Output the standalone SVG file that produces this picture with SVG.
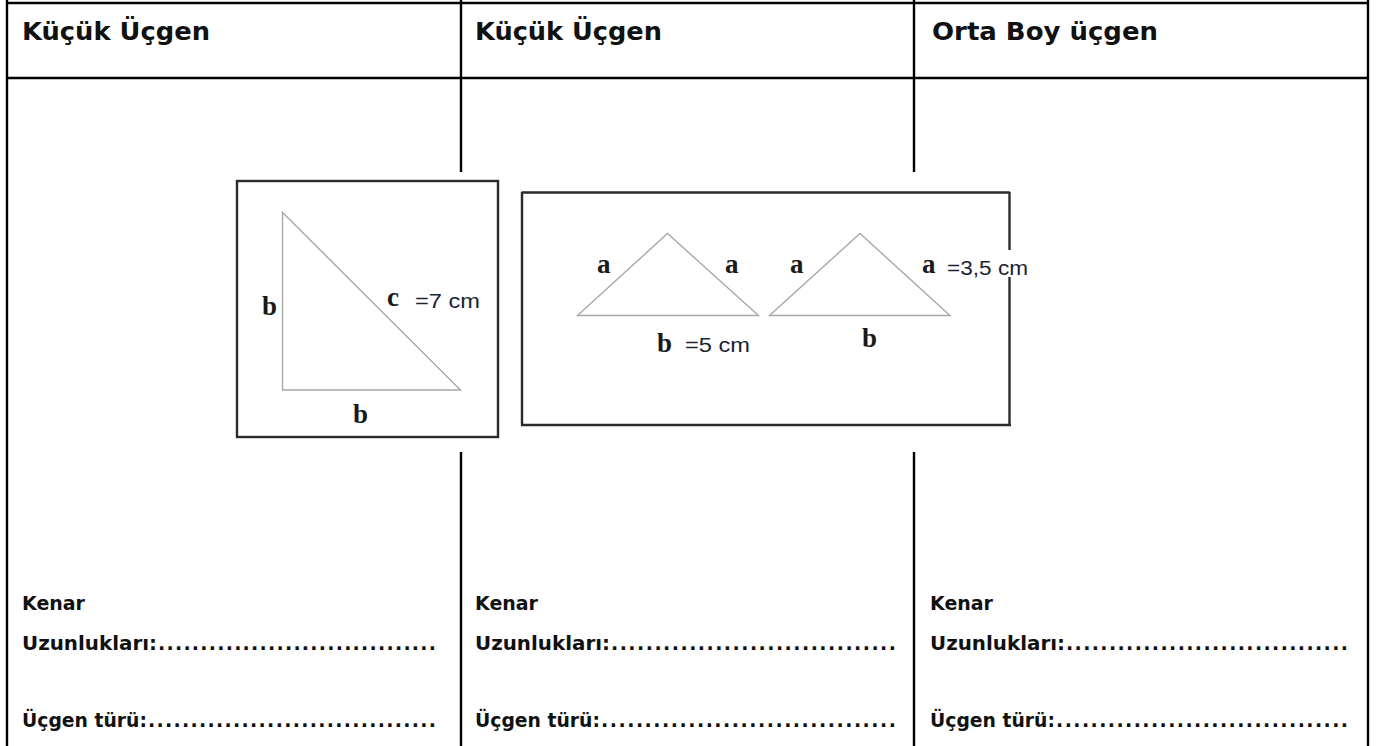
<svg xmlns="http://www.w3.org/2000/svg" width="1381" height="746" viewBox="0 0 1381 746">
<style>
.tl{stroke:#000;stroke-width:2.4;fill:none}
.hd{font-family:"DejaVu Sans",sans-serif;font-weight:bold;font-size:25px;fill:#111}
.bt{font-family:"DejaVu Sans",sans-serif;font-weight:bold;font-size:19px;fill:#111}
.box{fill:none;stroke:#2b2b2b;stroke-width:2.4}
.tri{fill:none;stroke:#a8a8a8;stroke-width:1.4;stroke-linejoin:miter}
.sv{font-family:"Liberation Serif",serif;font-weight:bold;font-size:27px;fill:#1a1a1a}
.ms{font-family:"Liberation Sans",sans-serif;font-size:20px;fill:#1c2333}
</style>
<rect width="1381" height="746" fill="#fff"/>
<g id="table">
<line class="tl" x1="7" y1="0" x2="7" y2="746"/>
<line class="tl" x1="1368" y1="0" x2="1368" y2="746"/>
<line class="tl" x1="461" y1="0" x2="461" y2="746"/>
<line class="tl" x1="914" y1="0" x2="914" y2="746"/>
<line class="tl" x1="7" y1="3" x2="1368" y2="3"/>
<line class="tl" x1="7" y1="78" x2="1368" y2="78"/>
</g>
<g id="headers">
<text class="hd" x="22" y="40" textLength="188" lengthAdjust="spacingAndGlyphs">Küçük Üçgen</text>
<text class="hd" x="475" y="40" textLength="187" lengthAdjust="spacingAndGlyphs">Küçük Üçgen</text>
<text class="hd" x="932" y="40" textLength="226" lengthAdjust="spacingAndGlyphs">Orta Boy üçgen</text>
</g>
<g id="picture">
<rect x="225" y="172" width="810" height="280" fill="#fff"/>
<g id="right-triangle">
<rect class="box" x="237" y="181" width="261" height="256"/>
<polygon class="tri" points="282.5,212.5 282.5,390 460.5,390"/>
<text class="sv" x="262" y="315">b</text>
<text class="sv" x="353" y="423">b</text>
<text class="sv" x="387" y="306">c</text>
<text class="ms" x="415" y="308" textLength="65" lengthAdjust="spacingAndGlyphs">=7 cm</text>
</g>
<g id="isosceles-triangles">
<line class="box" x1="521.5" y1="192.5" x2="1010" y2="192.5"/>
<line class="box" x1="522" y1="192" x2="522" y2="425"/>
<line class="box" x1="521" y1="425" x2="1011" y2="425"/>
<line class="box" x1="1009.5" y1="192" x2="1009.5" y2="250"/>
<line class="box" x1="1009.5" y1="277" x2="1009.5" y2="426"/>
<polygon class="tri" points="577.5,315.5 667.5,233.5 758.5,315.5"/>
<polygon class="tri" points="769.5,315.5 860,233.5 950,315.5"/>
<text class="sv" x="597" y="273">a</text>
<text class="sv" x="725" y="273">a</text>
<text class="sv" x="790" y="273">a</text>
<text class="sv" x="922" y="273">a</text>
<text class="ms" x="947" y="275" textLength="81" lengthAdjust="spacingAndGlyphs">=3,5 cm</text>
<text class="sv" x="657" y="352">b</text>
<text class="ms" x="685" y="352" textLength="65" lengthAdjust="spacingAndGlyphs">=5 cm</text>
<text class="sv" x="862" y="347">b</text>
</g>
</g>
<g id="col1-footer">
<text class="bt" x="22" y="610">Kenar</text>
<text class="bt" x="22" y="650" textLength="135" lengthAdjust="spacingAndGlyphs">Uzunlukları:</text>
<text class="bt" x="158" y="650" textLength="278" lengthAdjust="spacing">.................................</text>
<text class="bt" x="22" y="727" textLength="125" lengthAdjust="spacingAndGlyphs">Üçgen türü:</text>
<text class="bt" x="148" y="727" textLength="288" lengthAdjust="spacing">..................................</text>
</g>
<g id="col2-footer">
<text class="bt" x="475" y="610">Kenar</text>
<text class="bt" x="475" y="650" textLength="135" lengthAdjust="spacingAndGlyphs">Uzunlukları:</text>
<text class="bt" x="611" y="650" textLength="285" lengthAdjust="spacing">.................................</text>
<text class="bt" x="475" y="727" textLength="125" lengthAdjust="spacingAndGlyphs">Üçgen türü:</text>
<text class="bt" x="601" y="727" textLength="295" lengthAdjust="spacing">..................................</text>
</g>
<g id="col3-footer">
<text class="bt" x="930" y="610">Kenar</text>
<text class="bt" x="930" y="650" textLength="135" lengthAdjust="spacingAndGlyphs">Uzunlukları:</text>
<text class="bt" x="1066" y="650" textLength="282" lengthAdjust="spacing">.................................</text>
<text class="bt" x="930" y="727" textLength="125" lengthAdjust="spacingAndGlyphs">Üçgen türü:</text>
<text class="bt" x="1056" y="727" textLength="292" lengthAdjust="spacing">..................................</text>
</g>
</svg>
